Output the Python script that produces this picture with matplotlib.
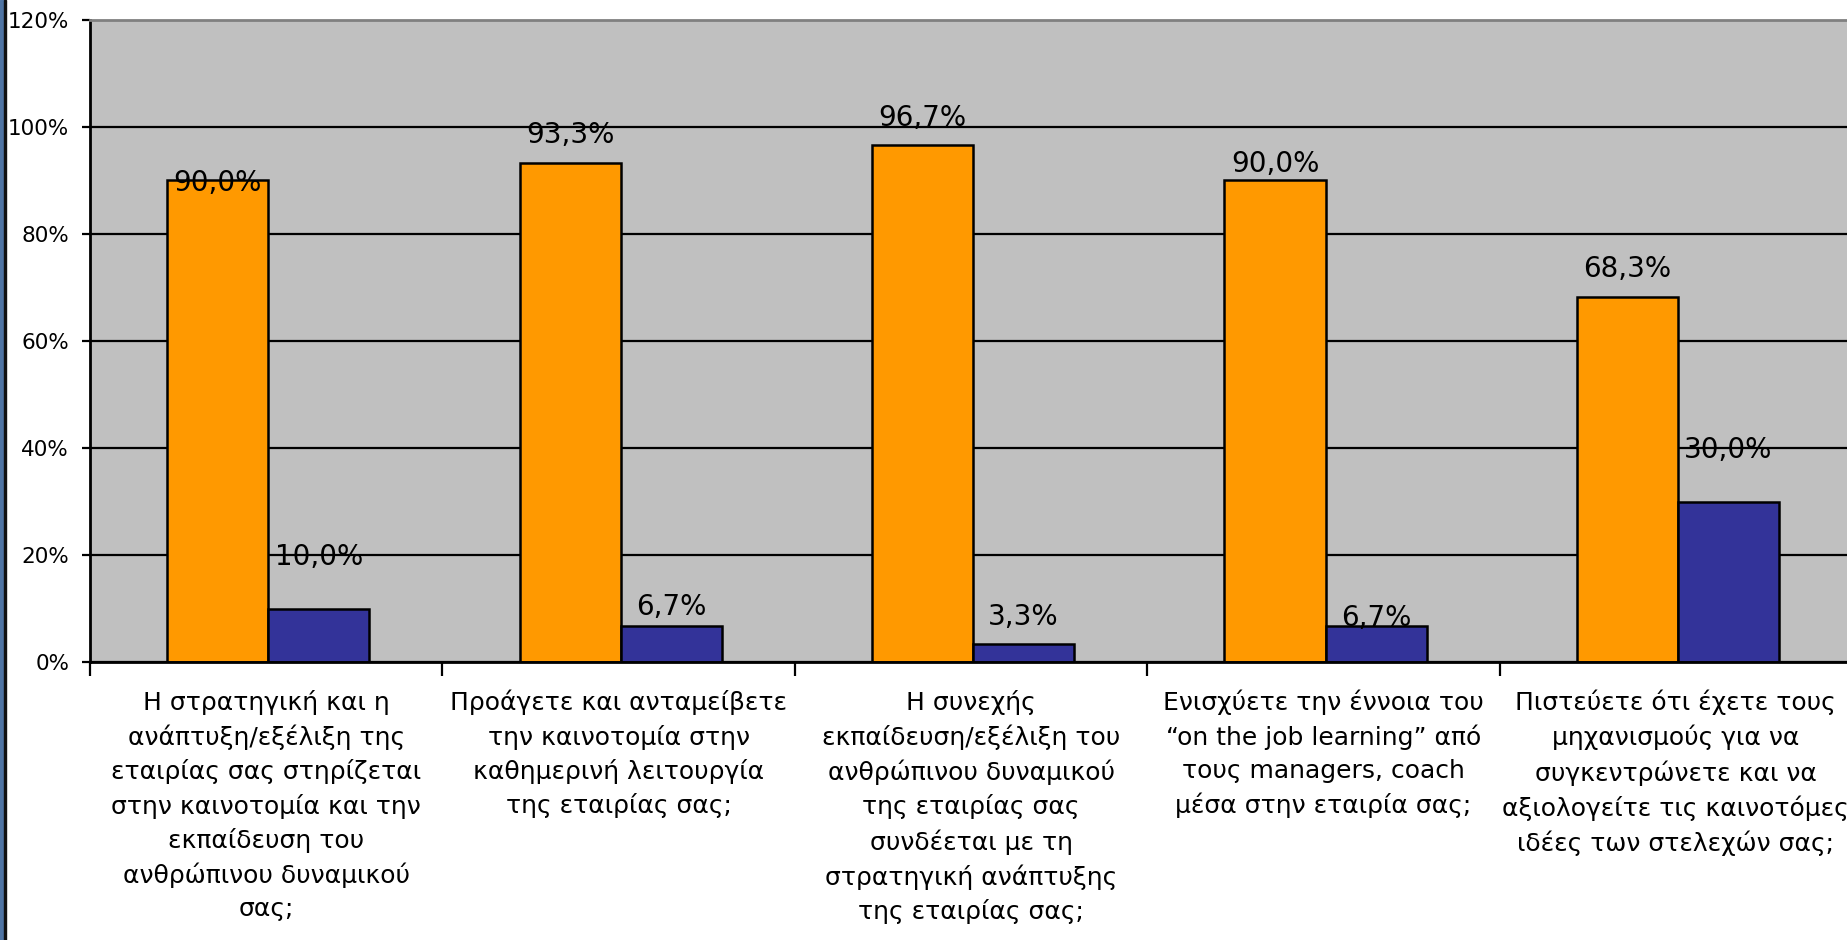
import matplotlib
matplotlib.use('Agg')
import matplotlib.pyplot as plt
import numpy as np
from matplotlib.ticker import FuncFormatter
from matplotlib.patches import Rectangle

plt.rcParams['font.family'] = ['DejaVu Sans']

# data
kategorien = ['Η στρατηγική και η\nανάπτυξη/εξέλιξη της\nεταιρίας σας στηρίζεται\nστην καινοτομία και την\nεκπαίδευση του\nανθρώπινου δυναμικού\nσας;',
              'Προάγετε και ανταμείβετε\nτην καινοτομία στην\nκαθημερινή λειτουργία\nτης εταιρίας σας;',
              'Η συνεχής\nεκπαίδευση/εξέλιξη του\nανθρώπινου δυναμικού\nτης εταιρίας σας\nσυνδέεται με τη\nστρατηγική ανάπτυξης\nτης εταιρίας σας;',
              'Ενισχύετε την έννοια του\n“on the job learning” από\nτους managers, coach\nμέσα στην εταιρία σας;',
              'Πιστεύετε ότι έχετε τους\nμηχανισμούς για να\nσυγκεντρώνετε και να\nαξιολογείτε τις καινοτόμες\nιδέες των στελεχών σας;']
ja = [90.0, 93.3, 96.7, 90.0, 68.3]
nein = [10.0, 6.7, 3.3, 6.7, 30.0]
y_ticks = [0, 20, 40, 60, 80, 100, 120]

# label offsets (points above bar top), Excel placed them a bit irregularly
off_ja = [-2, 20, 19, 12, 20]
off_nein = [37, 14, 20, 6, 37]

farbe_ja = '#FF9900'
farbe_nein = '#333399'

W, H = 1847, 940
fig = plt.figure(figsize=(W / 100, H / 100), dpi=100)
ax = fig.add_axes([90 / W, 278 / H, 1762 / W, 642 / H])
ax.set_facecolor('#C0C0C0')

x = np.arange(len(kategorien))
b = 0.287
for yv in y_ticks[:-1]:
    ax.axhline(yv, color='black', linewidth=1.6, zorder=1)

bars1 = ax.bar(x - b / 2 + 0.006, ja, b, color=farbe_ja, edgecolor='black', linewidth=1.8, zorder=2)
bars2 = ax.bar(x + b / 2 + 0.006, nein, b, color=farbe_nein, edgecolor='black', linewidth=1.8, zorder=2)

for bars, offs in [(bars1, off_ja), (bars2, off_nein)]:
    for p, o in zip(bars, offs):
        ax.annotate(('%.1f' % p.get_height()).replace('.', ',') + '%',
                    (p.get_x() + p.get_width() / 2., p.get_height()),
                    xytext=(0, o), textcoords='offset points',
                    ha='center', va='center', fontsize=20, color='black', zorder=3)

ax.set_xlim(-0.5, len(kategorien) - 0.5)
ax.set_ylim(0, 120)
ax.set_yticks(y_ticks)
ax.yaxis.set_major_formatter(FuncFormatter(lambda y, _: '%d%%' % y))
ax.tick_params(axis='y', length=6, width=1.6, pad=9, labelsize=15.5, direction='out')

ax.set_xticks(np.arange(len(kategorien) + 1) - 0.5)
ax.set_xticklabels([])
ax.tick_params(axis='x', which='major', length=10, width=1.6, direction='out')
ax.set_xticks(x, minor=True)
ax.set_xticklabels(kategorien, minor=True, fontsize=18, linespacing=1.47, va='top', ha='center')
ax.tick_params(axis='x', which='minor', length=0, pad=20)

ax.spines['top'].set_color('#808080')
ax.spines['top'].set_linewidth(2)
ax.spines['right'].set_visible(False)
ax.spines['left'].set_linewidth(2)
ax.spines['bottom'].set_linewidth(2)

# left border of the original window
fig.add_artist(Rectangle((0, 0), 4 / W, 1, transform=fig.transFigure, color='#4F74A3', zorder=5))
fig.add_artist(Rectangle((4 / W, 0), 2 / W, 1, transform=fig.transFigure, color='#111111', zorder=5))

fig.savefig('out.png', dpi=100)
plt.close()
